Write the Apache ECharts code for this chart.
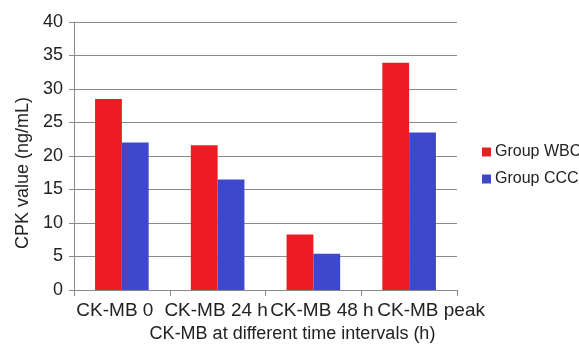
<!DOCTYPE html>
<html>
<head>
<meta charset="utf-8">
<script src="https://cdn.jsdelivr.net/npm/echarts@6/dist/echarts.min.js"></script>
<style>
  html, body { margin: 0; padding: 0; background: #fff; }
  #chart { width: 579px; height: 344px; }
</style>
</head>
<body>
<div id="chart"></div>
<script>
// CK-MB levels at each sampling time, per group (ng/mL)
const categories = ['CK-MB 0', 'CK-MB 24 h', 'CK-MB 48 h', 'CK-MB peak'];
const groupWBC = [28.5, 21.6, 8.3, 33.9];
const groupCCC = [22.0, 16.5, 5.4, 23.5];
const seriesNames = ['Group WBC', 'Group CCC'];
const yTicks = { min: 0, max: 40, step: 5 };

// horizontal nudges for the category labels so wide labels do not collide
const labelShift = [-7, -1.5, 8.5, 22];
const rich = {};
labelShift.forEach((d, i) => {
  rich['c' + i] = {
    fontSize: 19,
    fontFamily: 'Liberation Sans, Arial, sans-serif',
    color: '#222',
    padding: d >= 0 ? [0, 0, 0, 2 * d] : [0, -2 * d, 0, 0]
  };
});

const font = 'Liberation Sans, Arial, sans-serif';
const grey = '#8a8a8a';

const chart = echarts.init(document.getElementById('chart'), null, { renderer: 'canvas' });
chart.setOption({
  animation: false,
  grid: { left: 74, right: 122, top: 22, bottom: 54, containLabel: false, outerBoundsMode: 'none' },
  legend: {
    orient: 'vertical',
    left: 482,
    top: 144,
    padding: 0,
    itemWidth: 9,
    itemHeight: 9,
    itemGap: 11,
    icon: 'rect',
    textStyle: { fontSize: 16, fontFamily: font, color: '#222', padding: [0, 0, 0, -1] },
    data: seriesNames
  },
  xAxis: {
    type: 'category',
    data: categories,
    name: 'CK-MB at different time intervals (h)',
    nameLocation: 'middle',
    nameGap: 34,
    nameTextStyle: { fontSize: 18, fontFamily: font, color: '#222', padding: [0, 0, 0, 54] },
    axisLine: { lineStyle: { color: grey, width: 1 } },
    axisTick: { show: true, alignWithLabel: false, length: 6, lineStyle: { color: grey } },
    axisLabel: {
      interval: 0,
      margin: 11,
      formatter: (v, i) => '{c' + i + '|' + v + '}',
      rich: rich
    }
  },
  yAxis: {
    type: 'value',
    min: yTicks.min,
    max: yTicks.max,
    interval: yTicks.step,
    name: 'CPK value (ng/mL)',
    nameLocation: 'middle',
    nameGap: 42,
    nameRotate: 90,
    nameTextStyle: { fontSize: 18, fontFamily: font, color: '#222', padding: [0, 34, 0, 0] },
    axisLine: { show: true, lineStyle: { color: grey, width: 1 } },
    axisTick: { show: true, length: 5, lineStyle: { color: grey } },
    axisLabel: { fontSize: 18, fontFamily: font, color: '#222', margin: 11 },
    splitLine: { show: true, lineStyle: { color: grey, width: 1 } }
  },
  series: [
    {
      name: seriesNames[0],
      type: 'bar',
      data: groupWBC,
      itemStyle: { color: '#ed1c24' },
      barGap: '0%',
      barCategoryGap: '44%'
    },
    {
      name: seriesNames[1],
      type: 'bar',
      data: groupCCC,
      itemStyle: { color: '#3f48cc' },
      barGap: '0%',
      barCategoryGap: '44%'
    }
  ]
});
</script>
</body>
</html>
